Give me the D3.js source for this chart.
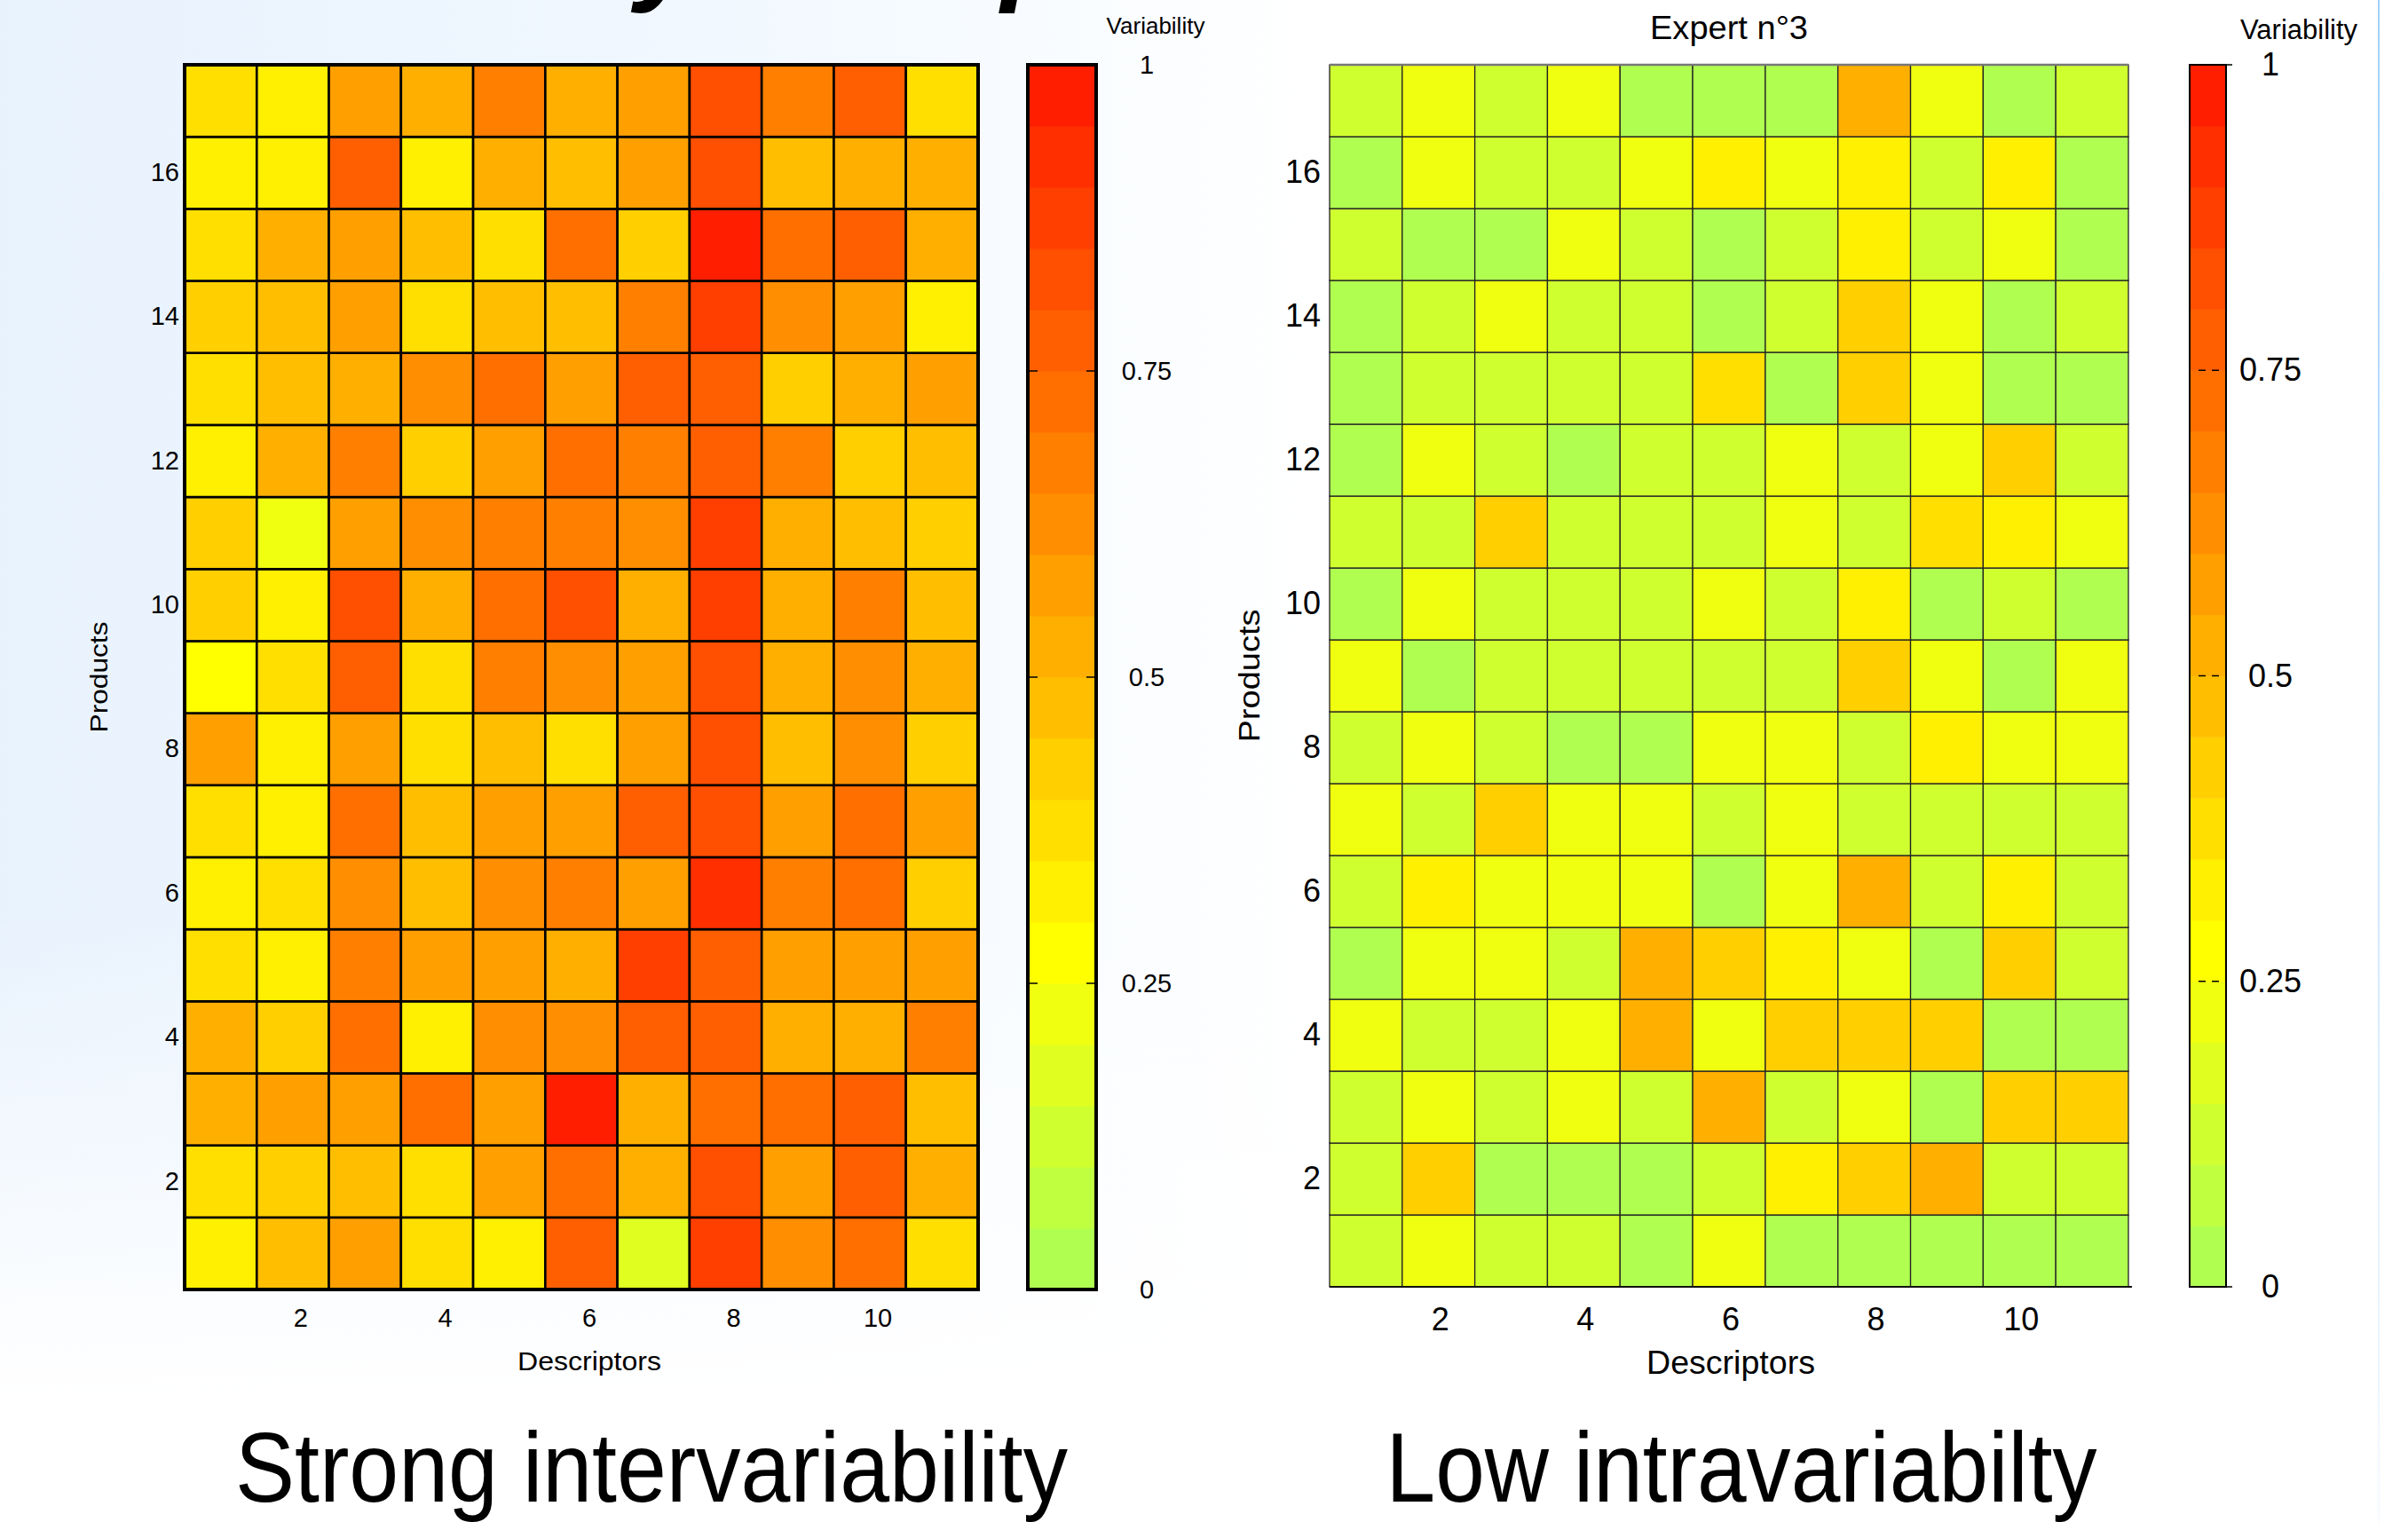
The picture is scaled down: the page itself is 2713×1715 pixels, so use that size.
<!DOCTYPE html>
<html>
<head>
<meta charset="utf-8">
<script src="https://cdn.jsdelivr.net/npm/d3@7"></script>
<style>
  body { margin: 0; background: #fff; }
  svg { display: block; }
  text { font-family: "Liberation Sans", Arial, sans-serif; fill: #000; }
</style>
</head>
<body>
<script>
// Set dimensions
const width = 2713;
const height = 1715;

// Categories
const descriptors = d3.range(1, 12);   // 11 descriptors (columns)
const products = d3.range(1, 18);      // 17 products (rows, 1 at bottom)
const descriptorTicks = [2, 4, 6, 8, 10];
const productTicks = [2, 4, 6, 8, 10, 12, 14, 16];
const colorbarTicks = [0, 0.25, 0.5, 0.75, 1];

// Inter-expert variability, one row per product (1..17), one value per descriptor
const interVar = [
  [0.32, 0.47, 0.57, 0.37, 0.32, 0.77, 0.17, 0.87, 0.62, 0.72, 0.37],
  [0.37, 0.42, 0.47, 0.37, 0.57, 0.72, 0.52, 0.82, 0.57, 0.77, 0.52],
  [0.52, 0.57, 0.57, 0.72, 0.57, 0.97, 0.52, 0.72, 0.72, 0.77, 0.47],
  [0.52, 0.42, 0.72, 0.32, 0.62, 0.62, 0.77, 0.77, 0.52, 0.52, 0.67],
  [0.37, 0.32, 0.67, 0.57, 0.57, 0.52, 0.87, 0.77, 0.57, 0.57, 0.57],
  [0.32, 0.37, 0.62, 0.47, 0.62, 0.67, 0.57, 0.92, 0.67, 0.72, 0.42],
  [0.37, 0.32, 0.72, 0.47, 0.57, 0.57, 0.77, 0.82, 0.57, 0.72, 0.57],
  [0.57, 0.32, 0.57, 0.37, 0.47, 0.37, 0.57, 0.82, 0.47, 0.62, 0.42],
  [0.27, 0.37, 0.77, 0.37, 0.67, 0.62, 0.57, 0.82, 0.52, 0.62, 0.52],
  [0.42, 0.32, 0.82, 0.52, 0.72, 0.82, 0.52, 0.87, 0.52, 0.67, 0.47],
  [0.42, 0.22, 0.57, 0.62, 0.67, 0.67, 0.62, 0.87, 0.52, 0.47, 0.42],
  [0.32, 0.52, 0.67, 0.42, 0.57, 0.72, 0.67, 0.77, 0.67, 0.42, 0.47],
  [0.37, 0.47, 0.52, 0.62, 0.72, 0.57, 0.77, 0.77, 0.42, 0.52, 0.57],
  [0.42, 0.47, 0.57, 0.37, 0.47, 0.47, 0.67, 0.87, 0.62, 0.57, 0.32],
  [0.37, 0.52, 0.57, 0.47, 0.37, 0.72, 0.42, 0.97, 0.72, 0.77, 0.52],
  [0.32, 0.32, 0.77, 0.32, 0.52, 0.47, 0.57, 0.82, 0.47, 0.52, 0.52],
  [0.37, 0.32, 0.57, 0.52, 0.67, 0.52, 0.57, 0.82, 0.67, 0.77, 0.37]
];

// Intra variability of expert n°3, same layout
const intraVar = [
  [0.12, 0.22, 0.12, 0.12, 0.02, 0.22, 0.02, 0.02, 0.02, 0.02, 0.02],
  [0.12, 0.42, 0.02, 0.02, 0.02, 0.12, 0.32, 0.42, 0.52, 0.12, 0.12],
  [0.12, 0.22, 0.12, 0.22, 0.12, 0.52, 0.12, 0.22, 0.02, 0.42, 0.42],
  [0.22, 0.12, 0.12, 0.22, 0.52, 0.22, 0.42, 0.42, 0.42, 0.02, 0.02],
  [0.02, 0.22, 0.22, 0.12, 0.52, 0.42, 0.32, 0.22, 0.02, 0.42, 0.12],
  [0.12, 0.32, 0.22, 0.22, 0.22, 0.02, 0.22, 0.52, 0.12, 0.32, 0.12],
  [0.22, 0.12, 0.42, 0.22, 0.22, 0.12, 0.22, 0.12, 0.12, 0.12, 0.12],
  [0.12, 0.22, 0.12, 0.02, 0.02, 0.22, 0.22, 0.12, 0.32, 0.22, 0.22],
  [0.22, 0.02, 0.12, 0.12, 0.12, 0.12, 0.12, 0.42, 0.22, 0.02, 0.22],
  [0.02, 0.22, 0.12, 0.12, 0.12, 0.22, 0.12, 0.32, 0.02, 0.12, 0.02],
  [0.12, 0.12, 0.42, 0.12, 0.12, 0.12, 0.22, 0.12, 0.37, 0.32, 0.22],
  [0.02, 0.22, 0.12, 0.02, 0.12, 0.12, 0.22, 0.12, 0.22, 0.42, 0.12],
  [0.02, 0.12, 0.12, 0.12, 0.12, 0.37, 0.02, 0.42, 0.22, 0.02, 0.02],
  [0.02, 0.12, 0.22, 0.12, 0.12, 0.02, 0.12, 0.42, 0.22, 0.02, 0.12],
  [0.12, 0.02, 0.02, 0.22, 0.12, 0.02, 0.12, 0.32, 0.12, 0.22, 0.02],
  [0.02, 0.22, 0.12, 0.12, 0.22, 0.32, 0.22, 0.32, 0.12, 0.32, 0.02],
  [0.12, 0.22, 0.12, 0.22, 0.02, 0.02, 0.02, 0.52, 0.22, 0.02, 0.12]
];

// 20-step colormap, green-yellow -> red
const palette = ["#b0ff50", "#c0ff40", "#d0ff30", "#e0ff20", "#f0ff10",
                 "#ffff00", "#ffef00", "#ffdf00", "#ffcf00", "#ffbf00",
                 "#ffaf00", "#ff9f00", "#ff8f00", "#ff7f00", "#ff6f00",
                 "#ff5f00", "#ff4f00", "#ff3f00", "#ff2f00", "#ff1f00"];
const color = d3.scaleQuantize().domain([0, 1]).range(palette);

const svg = d3.select("body")
    .append("svg")
    .attr("width", width)
    .attr("height", height);

const defs = svg.append("defs");

// Slide background: light blue on the left fading to white
const bgH = defs.append("linearGradient").attr("id", "bgH")
    .attr("x1", 0).attr("x2", 1).attr("y1", 0).attr("y2", 0);
bgH.append("stop").attr("offset", "0%").attr("stop-color", "#e8f2fd");
bgH.append("stop").attr("offset", "30%").attr("stop-color", "#f1f8ff");
bgH.append("stop").attr("offset", "55%").attr("stop-color", "#ffffff");
svg.append("rect").attr("width", width).attr("height", height).attr("fill", "url(#bgH)");

const bgV = defs.append("linearGradient").attr("id", "bgV")
    .attr("x1", 0).attr("x2", 0).attr("y1", 0).attr("y2", 1);
bgV.append("stop").attr("offset", "60%").attr("stop-color", "#fff").attr("stop-opacity", 0);
bgV.append("stop").attr("offset", "92%").attr("stop-color", "#fff").attr("stop-opacity", 1);
svg.append("rect").attr("width", width).attr("height", height).attr("fill", "url(#bgV)");

// thin light blue rule at the right of the slide
const ruleGrad = defs.append("linearGradient").attr("id", "rule")
    .attr("x1", 0).attr("x2", 0).attr("y1", 0).attr("y2", 1);
ruleGrad.append("stop").attr("offset", "0%").attr("stop-color", "#9fd0ff").attr("stop-opacity", 1);
ruleGrad.append("stop").attr("offset", "100%").attr("stop-color", "#9fd0ff").attr("stop-opacity", 0.1);
svg.append("rect").attr("x", 2679).attr("y", 0).attr("width", 2).attr("height", height)
    .attr("fill", "url(#rule)");

// Slide title, mostly cut off above the picture
svg.append("text")
    .attr("x", 172)
    .attr("y", -12)
    .attr("font-size", 130)
    .attr("font-weight", "bold")
    .attr("font-style", "italic")
    .text("Variability of experts");

function drawPanel(cfg) {
    const g = svg.append("g");

    const x = d3.scaleBand().domain(descriptors).range([cfg.left, cfg.right]);
    const y = d3.scaleBand().domain(products).range([cfg.bottom, cfg.top]);

    const cells = [];
    cfg.values.forEach((row, i) => row.forEach((v, j) => {
        cells.push({ product: products[i], descriptor: descriptors[j], value: v });
    }));

    // Heatmap cells
    g.selectAll("rect.cell")
        .data(cells)
        .join("rect")
        .attr("class", "cell")
        .attr("x", d => x(d.descriptor))
        .attr("y", d => y(d.product))
        .attr("width", x.bandwidth())
        .attr("height", y.bandwidth())
        .attr("fill", d => color(d.value))
        .attr("stroke", cfg.gridColor)
        .attr("stroke-width", cfg.gridWidth);

    // Frame
    if (cfg.frame) {
        g.append("rect")
            .attr("x", cfg.left).attr("y", cfg.top)
            .attr("width", cfg.right - cfg.left).attr("height", cfg.bottom - cfg.top)
            .attr("fill", "none").attr("stroke", "#000").attr("stroke-width", cfg.frame);
    } else {
        g.append("line").attr("x1", cfg.left).attr("x2", cfg.right)
            .attr("y1", cfg.top).attr("y2", cfg.top)
            .attr("stroke", "#777").attr("stroke-width", 2.5);
        g.append("line").attr("x1", cfg.left).attr("x2", cfg.right + 4)
            .attr("y1", cfg.bottom).attr("y2", cfg.bottom)
            .attr("stroke", "#111").attr("stroke-width", 2);
    }

    // X axis
    const xAxis = g.append("g")
        .attr("transform", `translate(0,${cfg.bottom})`)
        .call(d3.axisBottom(x).tickValues(descriptorTicks).tickSize(0).tickPadding(cfg.xPad));
    xAxis.select(".domain").remove();
    xAxis.selectAll("text")
        .attr("dx", cfg.labelShift)
        .attr("font-size", cfg.tickFont)
        .attr("font-family", "Liberation Sans, Arial, sans-serif")
        .attr("fill", "#000");

    // Y axis
    const yAxis = g.append("g")
        .attr("transform", `translate(${cfg.left},0)`)
        .call(d3.axisLeft(y).tickValues(productTicks).tickSize(0).tickPadding(cfg.yPad));
    yAxis.select(".domain").remove();
    yAxis.selectAll("text")
        .attr("font-size", cfg.tickFont)
        .attr("font-family", "Liberation Sans, Arial, sans-serif")
        .attr("fill", "#000");

    // Axis titles
    g.append("text")
        .attr("x", (cfg.left + cfg.right) / 2 + cfg.labelShift)
        .attr("y", cfg.xTitleY)
        .attr("text-anchor", "middle")
        .attr("font-size", cfg.titleFont)
        .attr("textLength", cfg.xTitleLen)
        .attr("lengthAdjust", "spacingAndGlyphs")
        .text("Descriptors");

    g.append("text")
        .attr("transform", `translate(${cfg.yTitleX},${(cfg.top + cfg.bottom) / 2}) rotate(-90)`)
        .attr("text-anchor", "middle")
        .attr("font-size", cfg.titleFont - 2)
        .attr("textLength", cfg.yTitleLen)
        .attr("lengthAdjust", "spacingAndGlyphs")
        .text("Products");

    if (cfg.title) {
        g.append("text")
            .attr("x", (cfg.left + cfg.right) / 2)
            .attr("y", 44)
            .attr("text-anchor", "middle")
            .attr("font-size", 36)
            .attr("textLength", 178)
            .attr("lengthAdjust", "spacingAndGlyphs")
            .text(cfg.title);
    }

    // Colorbar
    const cb = d3.scaleLinear().domain([0, 1]).range([cfg.bottom, cfg.top]);
    const bands = d3.range(palette.length).map(k => [k / palette.length, (k + 1) / palette.length]);
    g.selectAll("rect.band")
        .data(bands)
        .join("rect")
        .attr("class", "band")
        .attr("x", cfg.cbLeft)
        .attr("y", d => cb(d[1]))
        .attr("width", cfg.cbWidth)
        .attr("height", d => cb(d[0]) - cb(d[1]) + 0.5)
        .attr("fill", d => color((d[0] + d[1]) / 2));

    g.append("rect")
        .attr("x", cfg.cbLeft).attr("y", cfg.top)
        .attr("width", cfg.cbWidth).attr("height", cfg.bottom - cfg.top)
        .attr("fill", "none").attr("stroke", "#000").attr("stroke-width", cfg.cbStroke);

    // colorbar tick marks
    const inner = colorbarTicks.filter(t => t > 0 && t < 1);
    if (cfg.cbDashed) {
        g.selectAll("line.cbtick")
            .data(colorbarTicks)
            .join("line")
            .attr("class", "cbtick")
            .attr("x1", cfg.cbLeft + 10).attr("x2", cfg.cbLeft + 34)
            .attr("y1", d => cb(d)).attr("y2", d => cb(d))
            .attr("stroke", "#000").attr("stroke-width", 1.5)
            .attr("stroke-dasharray", "8,7");
        g.selectAll("line.cbend")
            .data([0, 1])
            .join("line")
            .attr("class", "cbend")
            .attr("x1", cfg.cbLeft + cfg.cbWidth).attr("x2", cfg.cbLeft + cfg.cbWidth + 7)
            .attr("y1", d => cb(d)).attr("y2", d => cb(d))
            .attr("stroke", "#000").attr("stroke-width", 1.5);
    } else {
        g.selectAll("line.cbtickL")
            .data(inner)
            .join("line")
            .attr("class", "cbtickL")
            .attr("x1", cfg.cbLeft).attr("x2", cfg.cbLeft + 11)
            .attr("y1", d => cb(d)).attr("y2", d => cb(d))
            .attr("stroke", "#000").attr("stroke-width", 1.5);
        g.selectAll("line.cbtickR")
            .data(inner)
            .join("line")
            .attr("class", "cbtickR")
            .attr("x1", cfg.cbLeft + cfg.cbWidth - 11).attr("x2", cfg.cbLeft + cfg.cbWidth)
            .attr("y1", d => cb(d)).attr("y2", d => cb(d))
            .attr("stroke", "#000").attr("stroke-width", 1.5);
    }

    const cbAxis = g.append("g")
        .attr("transform", `translate(${cfg.cbLabelX},0)`)
        .call(d3.axisRight(cb).tickValues(colorbarTicks).tickSize(0).tickPadding(0).tickFormat(d3.format("")));
    cbAxis.select(".domain").remove();
    cbAxis.selectAll("text")
        .attr("x", 0)
        .attr("text-anchor", "middle")
        .attr("font-size", cfg.cbFont)
        .attr("font-family", "Liberation Sans, Arial, sans-serif")
        .attr("fill", "#000");

    g.append("text")
        .attr("x", cfg.cbTitleX)
        .attr("y", cfg.cbTitleY)
        .attr("text-anchor", "middle")
        .attr("font-size", cfg.cbTitleFont)
        .text("Variability");
}

// Left panel: inter-variability
drawPanel({
    values: interVar,
    left: 208, right: 1102, top: 73, bottom: 1453,
    gridColor: "#000", gridWidth: 2.6, frame: 4,
    tickFont: 29, xPad: 21, yPad: 6, labelShift: 9,
    titleFont: 30, xTitleY: 1544, xTitleLen: 162,
    yTitleX: 121, yTitleLen: 125,
    cbLeft: 1158, cbWidth: 77, cbStroke: 4, cbDashed: false,
    cbLabelX: 1292, cbFont: 29,
    cbTitleX: 1302, cbTitleY: 38, cbTitleFont: 26
});

// Right panel: intra-variability of expert n°3
drawPanel({
    values: intraVar,
    left: 1498, right: 2398, top: 73, bottom: 1450,
    gridColor: "#222", gridWidth: 1.3, frame: 0,
    tickFont: 36, xPad: 23, yPad: 10, labelShift: 2,
    titleFont: 36, xTitleY: 1548, xTitleLen: 190,
    yTitleX: 1419, yTitleLen: 150,
    title: "Expert n°3",
    cbLeft: 2467, cbWidth: 41, cbStroke: 2, cbDashed: true,
    cbLabelX: 2558, cbFont: 36,
    cbTitleX: 2590, cbTitleY: 44, cbTitleFont: 31
});

// Slide captions
svg.append("text")
    .attr("x", 734).attr("y", 1692)
    .attr("text-anchor", "middle")
    .attr("font-size", 111)
    .attr("textLength", 938)
    .attr("lengthAdjust", "spacingAndGlyphs")
    .text("Strong intervariability");

svg.append("text")
    .attr("x", 1962).attr("y", 1692)
    .attr("text-anchor", "middle")
    .attr("font-size", 111)
    .attr("textLength", 801)
    .attr("lengthAdjust", "spacingAndGlyphs")
    .text("Low intravariabilty");
</script>
</body>
</html>
